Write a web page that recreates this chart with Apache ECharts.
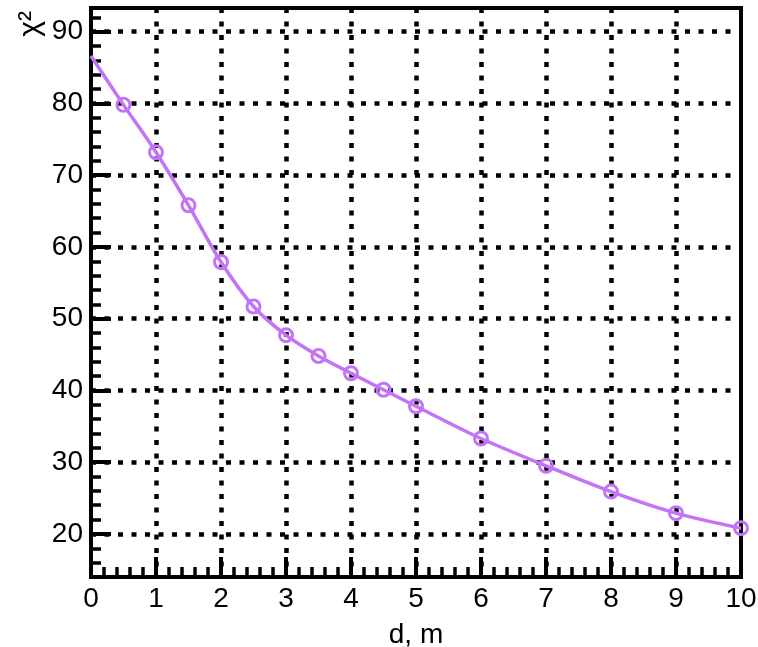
<!DOCTYPE html>
<html>
<head>
<meta charset="utf-8">
<title>chi2 vs d</title>
<script src="https://cdn.jsdelivr.net/npm/echarts@6/dist/echarts.min.js"></script>
<style>
    html, body { margin: 0; padding: 0; background: #fff; }
    #chart { width: 758px; height: 647px; }
</style>
</head>
<body>
<div id="chart"></div>
<script>
    // measured values
    var dValues = [0, 0.5, 1, 1.5, 2, 2.5, 3, 3.5, 4, 4.5, 5, 6, 7, 8, 9, 10];
    var chi2Values = [86.6, 79.8, 73.2, 65.8, 57.9, 51.7, 47.7, 44.8, 42.4, 40.1, 37.8, 33.3, 29.5, 25.9, 22.9, 20.8];
    var xTickLabels = [0, 1, 2, 3, 4, 5, 6, 7, 8, 9, 10];
    var xGridValues = [1, 2, 3, 4, 5, 6, 7, 8, 9];
    var yTickLabels = [20, 30, 40, 50, 60, 70, 80, 90];

    var purple = '#c373f6';
    var font = 'Liberation Sans';
    var dotted = { color: '#000', width: 4.5, type: [5, 8.5] };

    var seriesData = dValues.map(function (d, i) {
        var item = { value: [d, chi2Values[i]] };
        // first point is the start of the curve only, no marker
        if (i === 0) item.symbol = 'none';
        return item;
    });

    var chart = echarts.init(document.getElementById('chart'));
    chart.setOption({
        animation: false,
        grid: {
            left: 91, right: 17, top: 8, bottom: 70,
            containLabel: false,
            outerBoundsMode: 'none',
            show: true,
            borderColor: '#000',
            borderWidth: 4,
            backgroundColor: 'transparent'
        },
        xAxis: [
            {
                type: 'value',
                min: 0,
                max: 10,
                position: 'bottom',
                name: 'd, m',
                nameLocation: 'middle',
                nameGap: 44,
                nameTextStyle: { color: '#000', fontFamily: font, fontSize: 28 },
                axisLine: { show: true, lineStyle: { color: '#000', width: 4 } },
                axisTick: { show: true, inside: true, length: 20, customValues: xGridValues, lineStyle: { color: '#000', width: 4 } },
                axisLabel: { customValues: xTickLabels, margin: 8, color: '#000', fontFamily: font, fontSize: 28 },
                splitLine: { show: true, lineStyle: dotted }
            },
            {
                type: 'value',
                min: 0,
                max: 10,
                interval: 0.2,
                position: 'bottom',
                axisLine: { show: false },
                axisTick: { show: true, inside: true, length: 10, lineStyle: { color: '#000', width: 3.5 } },
                axisLabel: { show: false },
                splitLine: { show: false }
            }
        ],
        yAxis: [
            {
                type: 'value',
                min: 14,
                max: 93.3,
                position: 'left',
                name: 'χ²',
                nameLocation: 'end',
                nameRotate: 90,
                nameGap: -16,
                nameTextStyle: {
                    color: '#000', fontFamily: font, fontSize: 30,
                    align: 'center', verticalAlign: 'bottom',
                    padding: [0, 0, 45, 0]
                },
                axisLine: { show: true, lineStyle: { color: '#000', width: 4 } },
                axisTick: { show: true, inside: true, length: 20, customValues: yTickLabels, lineStyle: { color: '#000', width: 4 } },
                axisLabel: { customValues: yTickLabels, margin: 8, color: '#000', fontFamily: font, fontSize: 28 },
                splitLine: { show: true, lineStyle: dotted }
            },
            {
                type: 'value',
                min: 14,
                max: 93.3,
                interval: 2,
                position: 'left',
                axisLine: { show: false },
                axisTick: { show: true, inside: true, length: 10, lineStyle: { color: '#000', width: 3.5 } },
                axisLabel: { show: false },
                splitLine: { show: false }
            }
        ],
        series: [
            {
                type: 'line',
                data: seriesData,
                smooth: 0.3,
                symbol: 'circle',
                symbolSize: 13,
                color: purple,
                lineStyle: { color: purple, width: 3.5 },
                itemStyle: { color: 'rgba(255,255,255,0)', borderColor: purple, borderWidth: 3 },
                z: 5
            }
        ]
    });
</script>
</body>
</html>
